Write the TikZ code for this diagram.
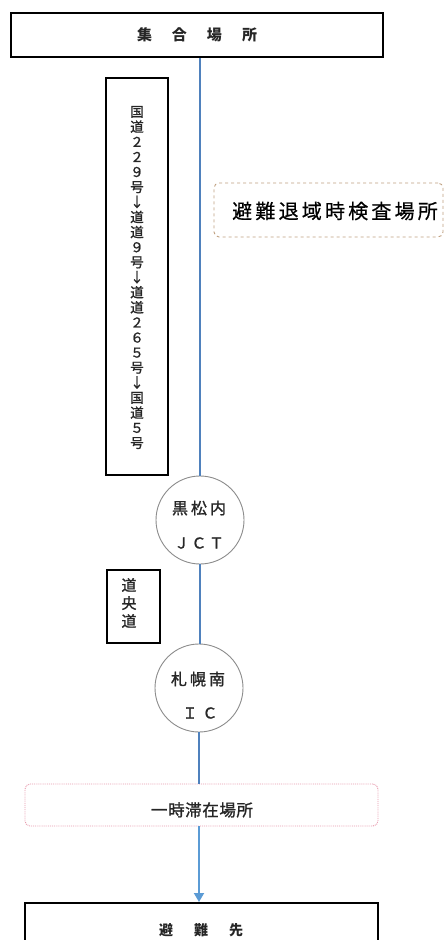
\documentclass[tikz,border=0pt]{standalone}
\usepackage{fontspec}
\setmainfont{Noto Sans CJK JP}
\newfontfamily\medjp[FakeBold=0.6]{Noto Sans CJK JP}
\newfontfamily\semijp[FakeBold=1.2]{Noto Sans CJK JP}
\usetikzlibrary{arrows.meta}
\definecolor{lineblue}{HTML}{4F81BD}
\definecolor{arrowblue}{HTML}{5B9BD5}
\definecolor{dashbrown}{HTML}{C0A080}
\definecolor{dotpink}{HTML}{E89AAE}
\definecolor{circgray}{HTML}{8C8C8C}
\definecolor{txtgray}{HTML}{262626}
\tikzset{
  mainbox/.style={draw=black, line width=2pt, fill=white, inner sep=0pt},
  routebox/.style={draw=black, line width=1.1pt, fill=white, inner sep=0pt},
  placebox/.style={draw=dashbrown, dashed, line width=0.9pt, rounded corners=5pt, fill=white, inner sep=0pt},
  stopbox/.style={draw=dotpink, densely dotted, line width=0.9pt, rounded corners=5pt, fill=white, inner sep=0pt},
  junction/.style={draw=circgray, line width=0.9pt, circle, fill=white, minimum size=88pt, inner sep=0pt},
  ctext/.style={inner sep=0pt, text=txtgray, font=\semijp\fontsize{15}{15}\selectfont},
  flow/.style={draw=lineblue, line width=1.8pt},
  flowarrow/.style={draw=arrowblue, line width=1.8pt, -{Triangle[length=9pt,width=10pt]}}
}
\begin{document}
\begin{tikzpicture}[x=1pt,y=-1pt]
\useasboundingbox[fill=white] (0,0) rectangle (446,940);

% boxes
\node[mainbox, minimum width=372pt, minimum height=44pt, text=txtgray, font=\bfseries\fontsize{15}{15}\selectfont] (start) at (197,35)
  {集\kern20pt 合\kern20pt 場\kern20pt 所};
\node[mainbox, minimum width=353pt, minimum height=60pt, anchor=north] (dest) at (201.5,902) {};
\node[inner sep=0pt, text=txtgray, font=\bfseries\fontsize{14}{14}\selectfont] (desttxt) at (201,930)
  {避\kern21pt 難\kern21pt 先};

% junction circles
\node[junction] (jct) at (200,520) {};
\node[junction] (ic) at (199,688) {};
\node[stopbox, minimum width=353pt, minimum height=42pt] (stop) at (201.5,805) {};

% connectors
\draw[flow] (start.south -| jct.north) -- (jct.north);
\draw[flow] (jct.south) -- (ic.north -| jct.south);
\draw[flow] (ic.south) -- (stop.north -| ic.south);
\draw[flowarrow] (stop.south -| ic.south) -- (dest.north -| ic.south);

% texts in circles / stop box
\node[ctext, font=\semijp\fontsize{16}{16}\selectfont] (jct1) at (199,508) {黒\kern3pt 松\kern3pt 内};
\node[ctext] (jct2) at (199,543) {Ｊ\kern2.5pt Ｃ\kern2.5pt Ｔ};
\node[ctext, font=\semijp\fontsize{16}{16}\selectfont] (ic1) at (198,679) {札\kern3pt 幌\kern3pt 南};
\node[ctext] (ic2) at (200,713) {Ｉ\kern5pt Ｃ};
\node[inner sep=0pt, text=txtgray, font=\semijp\fontsize{16.5}{16.5}\selectfont] (stoptxt) at (202,810)
  {一\kern0.6pt 時\kern0.6pt 滞\kern0.6pt 在\kern0.6pt 場\kern0.6pt 所};

% inspection place
\node[placebox, minimum width=229pt, minimum height=54pt] (check) at (328.5,210) {};
\node[inner sep=0pt, font=\medjp\fontsize{20}{20}\selectfont] (checktxt) at (335,211)
  {避\kern3.2pt 難\kern3.2pt 退\kern3.2pt 域\kern3.2pt 時\kern3.2pt 検\kern3.2pt 査\kern3.2pt 場\kern3.2pt 所};

% route boxes
\node[routebox, minimum width=62pt, minimum height=397pt] (route1) at (137,276.5) {};
\node[inner sep=0pt, align=center, text=txtgray, font=\semijp\fontsize{13.5}{15.05}\selectfont] (route1txt) at (137,277.5)
  {国\\道\\２\\２\\９\\号\\↓\\道\\道\\９\\号\\↓\\道\\道\\２\\６\\５\\号\\↓\\国\\道\\５\\号};
\node[routebox, minimum width=53pt, minimum height=73pt] (route2) at (133.5,606.5) {};
\node[inner sep=0pt, align=center, text=txtgray, font=\semijp\fontsize{15}{18}\selectfont] (route2txt) at (129,603)
  {道\\央\\道};
\end{tikzpicture}
\end{document}
